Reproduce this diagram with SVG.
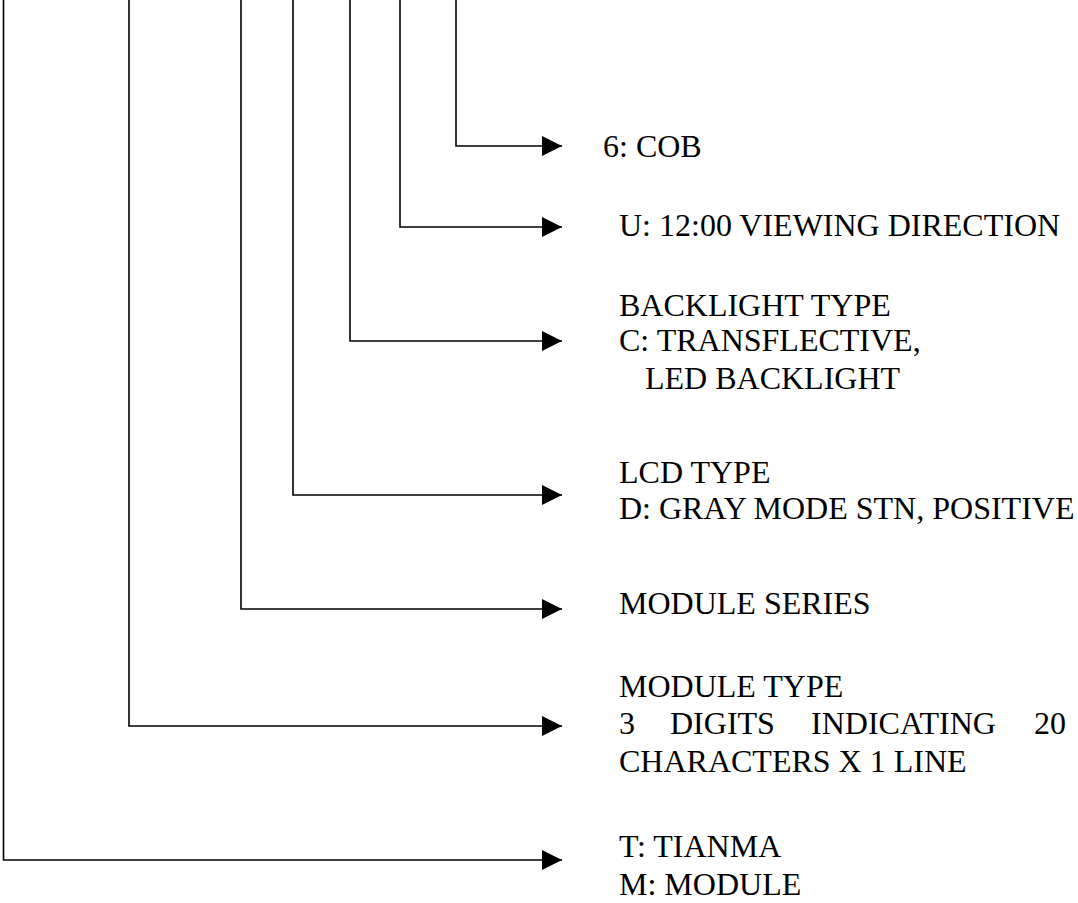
<svg xmlns="http://www.w3.org/2000/svg" width="1078" height="903" viewBox="0 0 1078 903">
<style>
.c{fill:none;stroke:#000;stroke-width:1.6}
text{font-family:"Liberation Serif","Times New Roman",serif;font-size:32px;fill:#000}
</style>
<defs>
<marker id="ah" markerUnits="userSpaceOnUse" markerWidth="20" markerHeight="20" refX="20" refY="10" orient="auto" viewBox="0 0 20 20">
<path d="M0,0 L20,10 L0,20 z" fill="#000"/>
</marker>
</defs>
<rect width="1078" height="903" fill="#fff"/>
<g id="connectors">
<path class="c" marker-end="url(#ah)" d="M456,0 V146 H562"/>
<path class="c" marker-end="url(#ah)" d="M400,0 V227 H562"/>
<path class="c" marker-end="url(#ah)" d="M350,0 V341 H562"/>
<path class="c" marker-end="url(#ah)" d="M293,0 V495 H562"/>
<path class="c" marker-end="url(#ah)" d="M241,0 V609 H562"/>
<path class="c" marker-end="url(#ah)" d="M129,0 V726 H562"/>
<path class="c" marker-end="url(#ah)" d="M3.5,0 V860 H562"/>
</g>
<g id="cob"><text x="603" y="157">6: COB</text></g>
<g id="viewing"><text x="619" y="236">U: 12:00 VIEWING DIRECTION</text></g>
<g id="backlight">
<text x="619" y="316">BACKLIGHT TYPE</text>
<text x="619" y="351">C: TRANSFLECTIVE,</text>
<text x="645" y="389">LED BACKLIGHT</text>
</g>
<g id="lcd">
<text x="619" y="483">LCD TYPE</text>
<text x="619" y="519">D: GRAY MODE STN, POSITIVE</text>
</g>
<g id="series"><text x="619" y="614">MODULE SERIES</text></g>
<g id="type">
<text x="619" y="697">MODULE TYPE</text>
<text y="734"><tspan x="619">3</tspan><tspan x="670">DIGITS</tspan><tspan x="811">INDICATING</tspan><tspan x="1034">20</tspan></text>
<text x="619" y="772">CHARACTERS X 1 LINE</text>
</g>
<g id="tianma">
<text x="619" y="857">T: TIANMA</text>
<text x="619" y="895">M: MODULE</text>
</g>
</svg>
